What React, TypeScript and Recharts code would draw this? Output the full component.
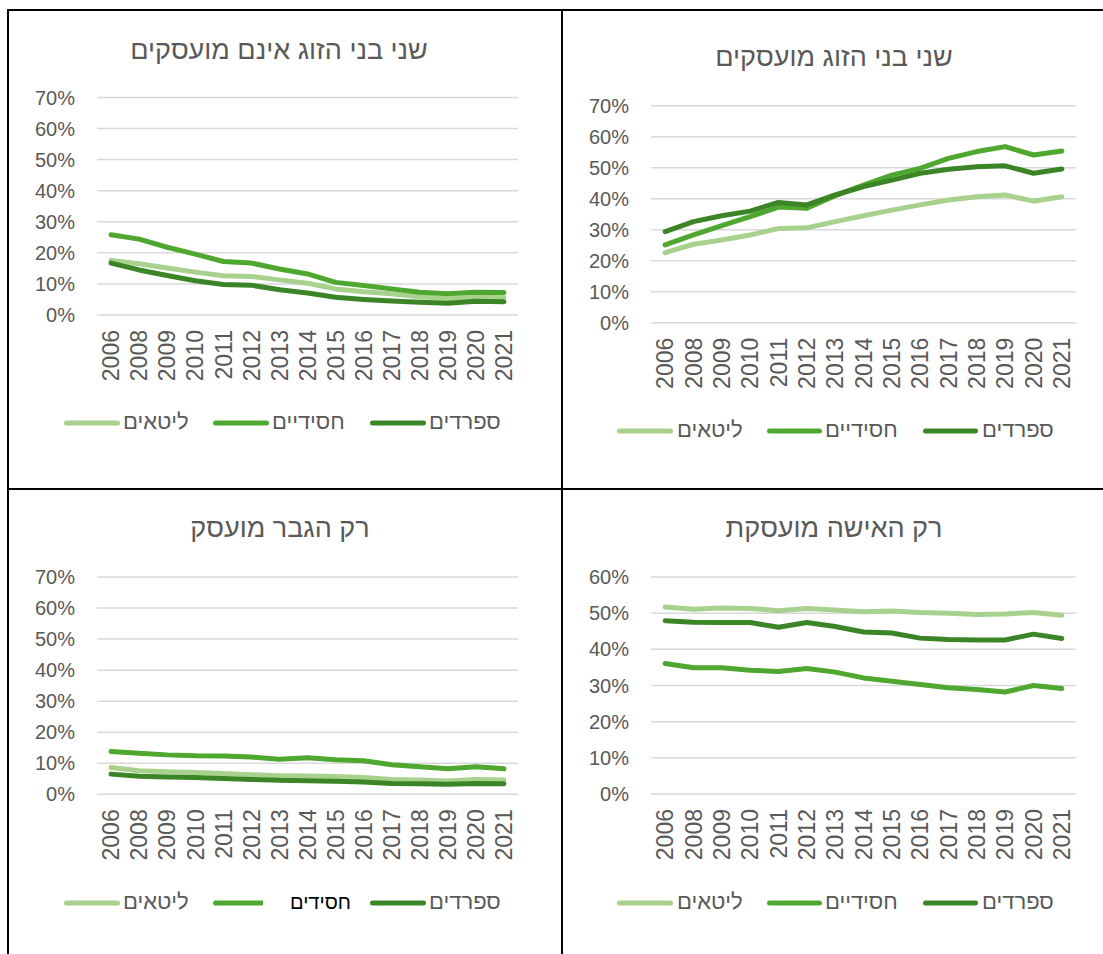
import { LineChart, Line, XAxis, YAxis, CartesianGrid } from 'recharts';

const years = ['2006', '2008', '2009', '2010', '2011', '2012', '2013', '2014', '2015', '2016', '2017', '2018', '2019', '2020', '2021'];

// שני בני הזוג אינם מועסקים
const noneLitaim = [17.5, 16.5, 15.1, 13.8, 12.6, 12.4, 11.3, 10.2, 8.4, 7.5, 6.8, 5.9, 5.2, 5.7, 5.6];
const noneHasidim = [25.8, 24.4, 21.8, 19.6, 17.2, 16.7, 14.8, 13.2, 10.5, 9.5, 8.4, 7.3, 6.8, 7.3, 7.2];
const noneSfaradim = [16.7, 14.5, 12.7, 11.0, 9.8, 9.6, 8.1, 7.1, 5.7, 5.0, 4.5, 4.1, 3.8, 4.4, 4.3];

// שני בני הזוג מועסקים
const bothLitaim = [22.6, 25.3, 26.7, 28.3, 30.4, 30.6, 32.6, 34.5, 36.3, 38.0, 39.6, 40.6, 41.2, 39.2, 40.6];
const bothHasidim = [25.1, 28.3, 31.3, 34.2, 37.3, 36.9, 41.0, 44.4, 47.6, 49.8, 53.0, 55.2, 56.8, 54.1, 55.4];
const bothSfaradim = [29.4, 32.6, 34.5, 36.0, 38.8, 38.0, 41.2, 43.9, 46.0, 48.2, 49.5, 50.3, 50.6, 48.2, 49.6];

// רק הגבר מועסק
const manLitaim = [8.6, 7.6, 7.3, 7.0, 6.7, 6.3, 6.0, 5.9, 5.7, 5.4, 4.8, 4.6, 4.3, 4.8, 4.6];
const manHasidim = [13.8, 13.2, 12.7, 12.4, 12.3, 12.0, 11.3, 11.8, 11.1, 10.8, 9.5, 8.9, 8.2, 8.9, 8.2];
const manSfaradim = [6.5, 5.8, 5.6, 5.4, 5.1, 4.8, 4.5, 4.4, 4.2, 4.0, 3.5, 3.4, 3.2, 3.5, 3.4];

// רק האישה מועסקת
const womanLitaim = [51.7, 51.1, 51.4, 51.3, 50.7, 51.3, 50.9, 50.4, 50.6, 50.2, 50.0, 49.6, 49.8, 50.2, 49.4];
const womanHasidim = [36.1, 34.9, 34.9, 34.2, 33.9, 34.7, 33.7, 32.1, 31.2, 30.3, 29.4, 28.9, 28.2, 30.0, 29.2];
const womanSfaradim = [47.9, 47.5, 47.4, 47.4, 46.1, 47.4, 46.3, 44.8, 44.5, 43.1, 42.7, 42.6, 42.6, 44.2, 43.0];

const ticks70 = [0, 10, 20, 30, 40, 50, 60, 70];
const ticks60 = [0, 10, 20, 30, 40, 50, 60];

const LIGHT = '#a9d18e';
const MID = '#4ea72e';
const DARK = '#3c8527';
const TEXT = '#595959';
const FONT = '"Liberation Sans", Arial, sans-serif';

const toRows = (a: number[], b: number[], c: number[]) =>
  years.map((year, i) => ({ year, litaim: a[i], hasidim: b[i], sfaradim: c[i] }));

const YearTick = ({ x, y, payload }: any) => (
  <text
    x={x}
    y={y}
    transform={`rotate(-90 ${x} ${y})`}
    textAnchor="end"
    dy="0.36em"
    fill={TEXT}
    fontSize={23}
    fontFamily={FONT}
  >
    {payload.value}
  </text>
);

interface Rect { x: number; y: number; w: number; h: number }
interface Plot { x0: number; x1: number; y0: number; y1: number }

interface PanelProps {
  panel: Rect;
  plot: Plot;
  data: ReturnType<typeof toRows>;
  ticks: number[];
  title: string;
  titleX: number;
  titleY: number;
}

function Panel({ panel, plot, data, ticks, title, titleX, titleY }: PanelProps) {
  const band = (plot.x1 - plot.x0) / years.length;
  return (
    <>
      <div
        style={{
          position: 'absolute',
          left: titleX,
          top: titleY,
          transform: 'translate(-50%, -50%)',
          whiteSpace: 'nowrap',
          fontSize: 27,
          color: TEXT,
          fontFamily: FONT,
        }}
      >
        {title}
      </div>
      <div style={{ position: 'absolute', left: panel.x, top: panel.y }}>
        <LineChart
          width={panel.w}
          height={panel.h}
          data={data}
          margin={{ top: plot.y0 - panel.y, right: panel.x + panel.w - plot.x1, bottom: 0, left: 0 }}
        >
          <CartesianGrid horizontal vertical={false} stroke="#d9d9d9" strokeWidth={1.5} />
          <XAxis
            dataKey="year"
            axisLine={false}
            tickLine={false}
            tickSize={0}
            tickMargin={15}
            interval={0}
            height={panel.y + panel.h - plot.y1}
            padding={{ left: band / 2, right: band / 2 }}
            tick={<YearTick />}
          />
          <YAxis
            domain={[0, ticks[ticks.length - 1]]}
            ticks={ticks}
            width={plot.x0 - panel.x}
            axisLine={false}
            tickLine={false}
            tickSize={0}
            tickMargin={22}
            tickFormatter={(v) => `${v}%`}
            tick={{ fontSize: 20, fill: TEXT, fontFamily: FONT }}
          />
          <Line dataKey="litaim" stroke={LIGHT} strokeWidth={5} strokeLinecap="round" strokeLinejoin="round" dot={false} isAnimationActive={false} />
          <Line dataKey="hasidim" stroke={MID} strokeWidth={5} strokeLinecap="round" strokeLinejoin="round" dot={false} isAnimationActive={false} />
          <Line dataKey="sfaradim" stroke={DARK} strokeWidth={5} strokeLinecap="round" strokeLinejoin="round" dot={false} isAnimationActive={false} />
        </LineChart>
      </div>
    </>
  );
}

interface LegendItem {
  x1: number;
  x2: number;
  tx: number;
  label: string;
  color: string;
  squareEnd?: boolean;
  textColor?: string;
  textSize?: number;
}

function LegendRow({ y, items }: { y: number; items: LegendItem[] }) {
  return (
    <>
      {items.map((it) => (
        <div key={it.label + it.x1}>
          <svg
            style={{ position: 'absolute', left: it.x1, top: y - 4 }}
            width={it.x2 - it.x1}
            height={8}
          >
            {it.squareEnd ? (
              <>
                <line x1={2.5} y1={4} x2={it.x2 - it.x1} y2={4} stroke={it.color} strokeWidth={5} />
                <circle cx={2.5} cy={4} r={2.5} fill={it.color} />
              </>
            ) : (
              <line x1={2.5} y1={4} x2={it.x2 - it.x1 - 2.5} y2={4} stroke={it.color} strokeWidth={5} strokeLinecap="round" />
            )}
          </svg>
          <span
            style={{
              position: 'absolute',
              left: it.tx,
              top: y - 15,
              lineHeight: '28px',
              fontSize: it.textSize ?? 22,
              whiteSpace: 'nowrap',
              color: it.textColor ?? TEXT,
              fontFamily: FONT,
            }}
          >
            {it.label}
          </span>
        </div>
      ))}
    </>
  );
}

const legendLeft = (mid: string, special?: boolean): LegendItem[] => [
  { x1: 64, x2: 120, tx: 123, label: 'ליטאים', color: LIGHT },
  special
    ? { x1: 213, x2: 263, tx: 290, label: mid, color: MID, squareEnd: true, textColor: '#000', textSize: 20 }
    : { x1: 213, x2: 269, tx: 272, label: mid, color: MID },
  { x1: 370, x2: 426, tx: 429, label: 'ספרדים', color: DARK },
];

const legendRight: LegendItem[] = [
  { x1: 617, x2: 673, tx: 677, label: 'ליטאים', color: LIGHT },
  { x1: 767, x2: 822, tx: 825, label: 'חסידיים', color: MID },
  { x1: 923, x2: 978, tx: 982, label: 'ספרדים', color: DARK },
];

const Rule = ({ l, t, w, h }: { l: number; t: number; w: number; h: number }) => (
  <div style={{ position: 'absolute', left: l, top: t, width: w, height: h, background: '#000' }} />
);

export default function App() {
  return (
    <div style={{ position: 'absolute', left: 0, top: 0, width: 1103, height: 954, background: '#fff', overflow: 'hidden' }}>
      <Rule l={7} t={9} w={1096} h={2} />
      <Rule l={7} t={488} w={1096} h={2} />
      <Rule l={7} t={9} w={2} h={945} />
      <Rule l={561} t={9} w={2} h={945} />

      <Panel
        panel={{ x: 9, y: 11, w: 552, h: 477 }}
        plot={{ x0: 97, x1: 518, y0: 97.4, y1: 315 }}
        data={toRows(noneLitaim, noneHasidim, noneSfaradim)}
        ticks={ticks70}
        title="שני בני הזוג אינם מועסקים"
        titleX={279}
        titleY={50}
      />
      <LegendRow y={423} items={legendLeft('חסידיים')} />

      <Panel
        panel={{ x: 563, y: 11, w: 540, h: 477 }}
        plot={{ x0: 651, x1: 1076, y0: 105.7, y1: 322.7 }}
        data={toRows(bothLitaim, bothHasidim, bothSfaradim)}
        ticks={ticks70}
        title="שני בני הזוג מועסקים"
        titleX={834}
        titleY={57}
      />
      <LegendRow y={431} items={legendRight} />

      <Panel
        panel={{ x: 9, y: 490, w: 552, h: 464 }}
        plot={{ x0: 97, x1: 518, y0: 577, y1: 794.3 }}
        data={toRows(manLitaim, manHasidim, manSfaradim)}
        ticks={ticks70}
        title="רק הגבר מועסק"
        titleX={280}
        titleY={528}
      />
      <LegendRow y={903} items={legendLeft('חסידים', true)} />

      <Panel
        panel={{ x: 563, y: 490, w: 540, h: 464 }}
        plot={{ x0: 651, x1: 1076, y0: 577, y1: 794 }}
        data={toRows(womanLitaim, womanHasidim, womanSfaradim)}
        ticks={ticks60}
        title="רק האישה מועסקת"
        titleX={834}
        titleY={528}
      />
      <LegendRow y={903} items={legendRight} />
    </div>
  );
}
